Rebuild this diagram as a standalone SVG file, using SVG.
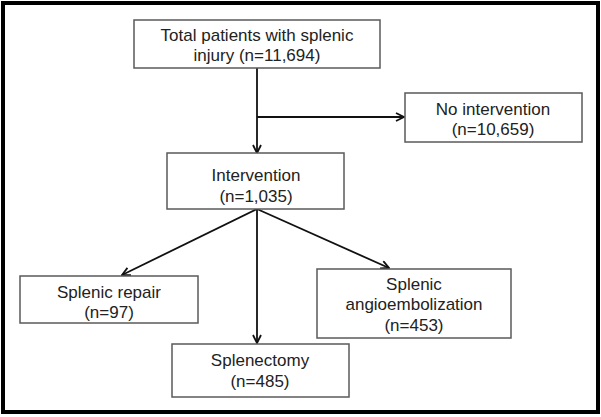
<svg xmlns="http://www.w3.org/2000/svg" width="601" height="417" viewBox="0 0 601 417">
<style>
.box{fill:#fff;stroke:#5a5a5a;stroke-width:1.5}
.t{font-family:"Liberation Sans",Arial,sans-serif;font-size:17px;fill:#222;text-anchor:middle}
.c{stroke:#111;stroke-width:1.8;fill:none}
</style>
<defs>
<marker id="ah" viewBox="0 0 10 10" refX="9" refY="5" markerWidth="10" markerHeight="10" markerUnits="userSpaceOnUse" orient="auto">
<path d="M1,1 L9,5 L1,9" fill="none" stroke="#111" stroke-width="1.8"/>
</marker>
</defs>
<rect x="0" y="0" width="601" height="417" fill="#fff"/>
<rect x="3" y="3" width="595" height="409" fill="none" stroke="#000" stroke-width="4"/>
<g id="connectors">
<line class="c" x1="257" y1="68" x2="257" y2="153" marker-end="url(#ah)"/>
<line class="c" x1="257" y1="117" x2="404" y2="117" marker-end="url(#ah)"/>
<line class="c" x1="257" y1="209" x2="122" y2="275" marker-end="url(#ah)"/>
<line class="c" x1="257" y1="209" x2="257" y2="343" marker-end="url(#ah)"/>
<line class="c" x1="257" y1="209" x2="389" y2="268" marker-end="url(#ah)"/>
</g>
<g id="total">
<rect class="box" x="134" y="20" width="246" height="48"/>
<text class="t" x="257" y="41">Total patients with splenic</text>
<text class="t" x="257" y="61">injury (n=11,694)</text>
</g>
<g id="nointervention">
<rect class="box" x="405" y="93" width="177" height="49"/>
<text class="t" x="493" y="115">No intervention</text>
<text class="t" x="493" y="135">(n=10,659)</text>
</g>
<g id="intervention">
<rect class="box" x="167" y="153" width="177" height="56"/>
<text class="t" x="256" y="181">Intervention</text>
<text class="t" x="256" y="202">(n=1,035)</text>
</g>
<g id="repair">
<rect class="box" x="20" y="276" width="178" height="47"/>
<text class="t" x="109" y="298">Splenic repair</text>
<text class="t" x="109" y="318">(n=97)</text>
</g>
<g id="angio">
<rect class="box" x="317" y="269" width="194" height="69"/>
<text class="t" x="414" y="290">Splenic</text>
<text class="t" x="414" y="310">angioembolization</text>
<text class="t" x="414" y="331">(n=453)</text>
</g>
<g id="splenectomy">
<rect class="box" x="172" y="344" width="177" height="53"/>
<text class="t" x="260" y="366">Splenectomy</text>
<text class="t" x="260" y="387">(n=485)</text>
</g>
</svg>
